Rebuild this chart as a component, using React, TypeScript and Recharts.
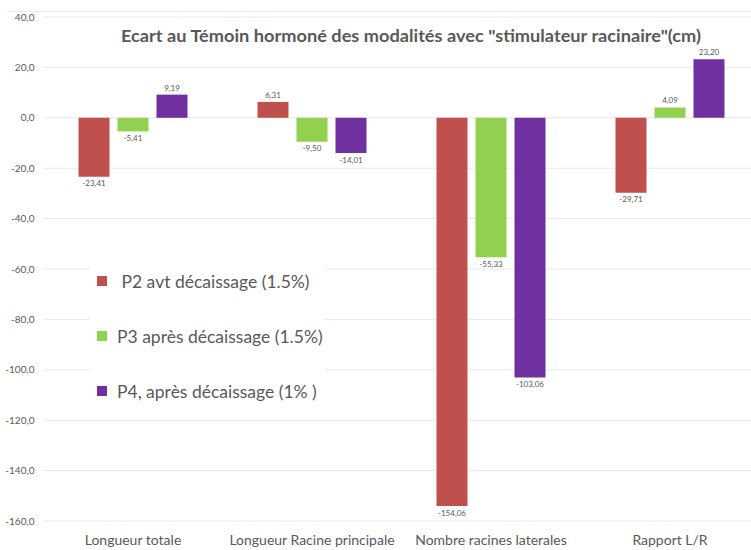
import { BarChart, Bar, XAxis, YAxis, CartesianGrid, Legend, LabelList } from "recharts";

const categories = ["Longueur totale", "Longueur Racine principale", "Nombre racines laterales", "Rapport L/R"];
const p2 = [-23.41, 6.31, -154.06, -29.71];
const p3 = [-5.41, -9.5, -55.33, 4.09];
const p4 = [9.19, -14.01, -103.06, 23.2];
const yTicks = [40, 20, 0, -20, -40, -60, -80, -100, -120, -140, -160];

const series = [
  { key: "p2", name: " P2 avt décaissage (1.5%)", color: "#C0504D" },
  { key: "p3", name: "P3 après décaissage (1.5%)", color: "#92D050" },
  { key: "p4", name: "P4, après décaissage (1% )", color: "#7030A0" },
];

const data = categories.map((name, i) => ({ name, p2: p2[i], p3: p3[i], p4: p4[i] }));

const grey = "#595959";
const font = "Lato, 'Open Sans', sans-serif";
const fmt = (v: number) => v.toFixed(2).replace(".", ",");

function LegendBox() {
  return (
    <div style={{ position: "relative", width: 235, height: 170, background: "#fff" }}>
      {series.map((s, i) => (
        <div
          key={s.key}
          style={{ position: "absolute", left: 7, top: 31 + i * 55, height: 20, display: "flex", alignItems: "center" }}
        >
          <span style={{ width: 10, height: 10, background: s.color, display: "inline-block", marginRight: 10 }} />
          <span style={{ fontFamily: font, fontSize: 17.5, color: grey, whiteSpace: "pre" }}>{s.name}</span>
        </div>
      ))}
    </div>
  );
}

export default function App() {
  return (
    <div style={{ position: "absolute", left: 0, top: 0, width: 751, height: 550, overflow: "hidden", background: "#fff" }}>
      <div style={{ position: "absolute", left: 7, top: 11, right: 0, borderTop: "1px solid #eeeeee" }} />
      <BarChart
        width={770}
        height={550}
        data={data}
        margin={{ top: 17, right: 10.5, bottom: 0, left: 0 }}
        barSize={31}
        barGap={8}
      >
        <CartesianGrid vertical={false} stroke="#e8e8e8" />
        <XAxis
          dataKey="name"
          axisLine={false}
          tickLine={false}
          height={29}
          interval={0}
          tickMargin={8}
          tick={{ fill: grey, fontSize: 14, fontFamily: font }}
        />
        <YAxis
          domain={[-160, 40]}
          ticks={yTicks}
          interval={0}
          width={43.5}
          axisLine={false}
          tickLine={false}
          tickMargin={3}
          tickFormatter={(v: number) => v.toFixed(1).replace(".", ",")}
          tick={{ fill: grey, fontSize: 10, fontFamily: font }}
        />
        <Legend
          layout="vertical"
          align="center"
          verticalAlign="middle"
          content={() => <LegendBox />}
          wrapperStyle={{ left: 90, top: 240, width: 235, height: 170 }}
        />
        {series.map((s) => (
          <Bar key={s.key} dataKey={s.key} name={s.name} fill={s.color} isAnimationActive={false}>
            <LabelList
              dataKey={s.key}
              position="top"
              offset={4}
              formatter={(v: number) => fmt(v)}
              style={{ fill: grey, fontSize: 8, fontFamily: font }}
            />
          </Bar>
        ))}
      </BarChart>
      <svg width={751} height={60} style={{ position: "absolute", left: 0, top: 0, pointerEvents: "none" }}>
        <text
          x={411}
          y={42}
          textAnchor="middle"
          textLength={580}
          lengthAdjust="spacingAndGlyphs"
          style={{ fill: grey, fontSize: 17, fontWeight: 700, fontFamily: font }}
        >
          Ecart au Témoin hormoné des modalités avec "stimulateur racinaire"(cm)
        </text>
      </svg>
    </div>
  );
}
